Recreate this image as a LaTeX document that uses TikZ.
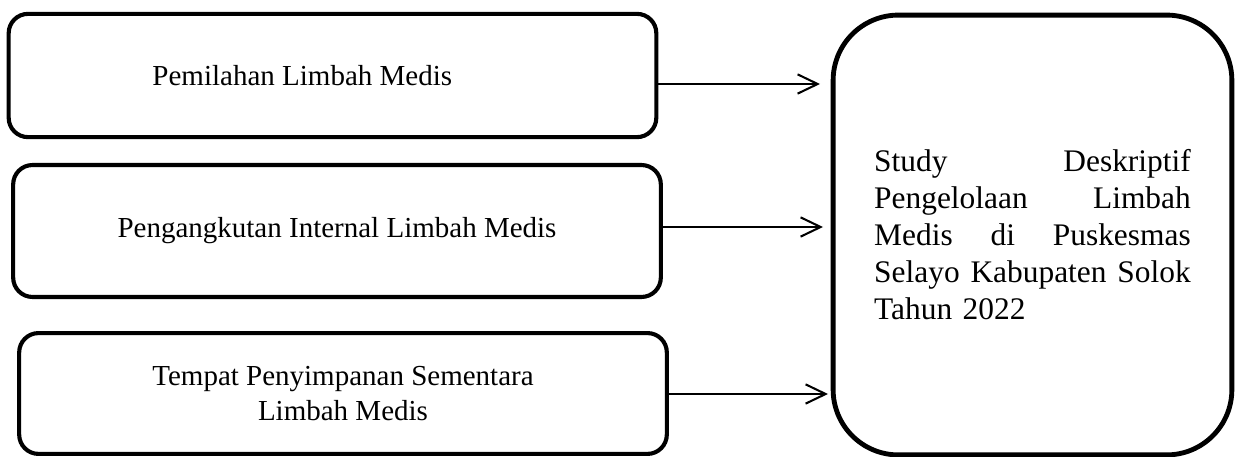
\documentclass[tikz,border=0pt]{standalone}
\usepackage{fontspec}
\setmainfont{Liberation Serif}
\usetikzlibrary{arrows.meta}

\begin{document}
\begin{tikzpicture}[
  x=0.4138pt,y=-0.4138pt,
  font=\fontsize{12pt}{14.5pt}\selectfont,
  >={Straight Barb[length=8.3pt,width=8pt]},
  tahap/.style={draw,line width=1.7pt,rounded corners=8pt,minimum width=268pt,align=center,inner sep=0pt},
  hasil/.style={draw,line width=2pt,rounded corners=27pt,minimum width=165pt,minimum height=182pt,text width=131pt,align=left,font=\fontsize{13pt}{15.3pt}\selectfont},
  panah/.style={->,line width=0.85pt}
]
\useasboundingbox (0,0) rectangle (1235,457);
% tahapan pengelolaan
\node[tahap,minimum height=51pt] (pilah) at (332.5,75.5) {Pemilahan Limbah Medis\hspace{25pt}};
\node[tahap,minimum height=54.6pt] (angkut) at (337,231) {Pengangkutan Internal Limbah Medis};
\node[tahap,minimum height=50pt] (simpan) at (343,393.5) {Tempat Penyimpanan Sementara\\Limbah Medis};
% hasil
\node[hasil] (studi) at (1032.5,235) {Study \hfill Deskriptif\\Pengelolaan \hfill Limbah\\Medis \hfill di \hfill Puskesmas\\Selayo \hfill Kabupaten \hfill Solok\\Tahun 2022};
% ujung panah
\coordinate (t1) at (820,84);
\coordinate (t2) at (823,227);
\coordinate (t3) at (828,394);
\draw[panah] (pilah.east |- t1) -- (t1);
\draw[panah] (angkut.east |- t2) -- (t2);
\draw[panah] (simpan.east |- t3) -- (t3);
\end{tikzpicture}
\end{document}
